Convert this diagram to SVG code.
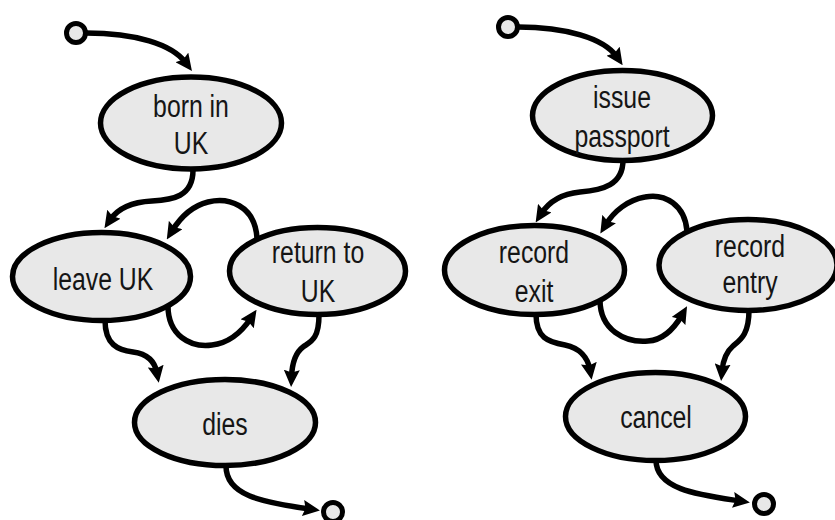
<svg xmlns="http://www.w3.org/2000/svg" width="835" height="520" viewBox="0 0 835 520">
<style>
.node ellipse{fill:#e8e8e8;stroke:#000;stroke-width:5.5}
.term{fill:#e8e8e8;stroke:#000;stroke-width:5}
.lbl{font-family:"Liberation Sans",Arial,sans-serif;font-size:31px;fill:#151515;text-anchor:middle}
#connectors path{fill:none;stroke:#000;stroke-width:5.5;marker-end:url(#arr)}
</style>
<defs>
<marker id="arr" markerUnits="userSpaceOnUse" viewBox="0 0 17 16" refX="7" refY="8" markerWidth="17" markerHeight="16" orient="auto">
<path d="M0,0 L17,8 L0,16 L2.5,8 Z" fill="#000"/>
</marker>
</defs>
<rect width="835" height="520" fill="#fff"/>
<g id="connectors">
<path d="M86,33 C135,33 172,44 186,63"/>
<path d="M193,170 C193,197 172,200 152,201 C132,202 118,208 110,220"/>
<path d="M257,238 C255,205 228,197 208,202 C192,206 180,218 172,231"/>
<path d="M168,306 C168,335 190,348 212,345 C230,343 243,330 251,318"/>
<path d="M105,320 C105,345 118,350 133,352 C148,354 155,362 157,373"/>
<path d="M319,315 C319,340 310,342 303,347 C295,353 292,365 291.5,377"/>
<path d="M226,466 C226,495 260,502 310,509"/>
<path d="M518,27 C565,27 604,38 617,57"/>
<path d="M623,160 C623,185 603,190 580,192 C560,194 548,203 541,214"/>
<path d="M687,231 C685,205 665,193 645,197 C628,200 614,211 605.5,225"/>
<path d="M600,300 C600,330 625,343 648,341 C664,340 675,327 682,315"/>
<path d="M536,314 C536,338 548,342 565,345 C580,348 588,358 590,370"/>
<path d="M749,310 C749,335 740,340 733,346 C726,352 723,360 722,371"/>
<path d="M656,460 C656,490 700,495 740,501"/>
</g>
<g id="start1"><circle class="term" cx="76" cy="33" r="9.5"/></g>
<g id="end1"><circle class="term" cx="333" cy="512" r="9.5"/></g>
<g id="start2"><circle class="term" cx="508" cy="27" r="9.5"/></g>
<g id="end2"><circle class="term" cx="764" cy="504" r="9.5"/></g>
<g id="born" class="node"><ellipse cx="191" cy="123" rx="90.5" ry="46"/>
<text class="lbl" transform="translate(191,117) scale(0.8,1)">born in</text>
<text class="lbl" transform="translate(191,154) scale(0.8,1)">UK</text></g>
<g id="leave" class="node"><ellipse cx="101.5" cy="276.5" rx="89" ry="44"/>
<text class="lbl" transform="translate(103,290) scale(0.8,1)">leave UK</text></g>
<g id="return" class="node"><ellipse cx="317.5" cy="271" rx="88" ry="43.5"/>
<text class="lbl" transform="translate(318,263) scale(0.8,1)">return to</text>
<text class="lbl" transform="translate(318,302) scale(0.8,1)">UK</text></g>
<g id="dies" class="node"><ellipse cx="225" cy="422.5" rx="90.5" ry="43"/>
<text class="lbl" transform="translate(225,435) scale(0.8,1)">dies</text></g>
<g id="issue" class="node"><ellipse cx="622.5" cy="115.5" rx="90" ry="45"/>
<text class="lbl" transform="translate(622,108) scale(0.8,1)">issue</text>
<text class="lbl" transform="translate(622,147) scale(0.8,1)">passport</text></g>
<g id="exit" class="node"><ellipse cx="534.5" cy="270" rx="90" ry="44.5"/>
<text class="lbl" transform="translate(534,263) scale(0.8,1)">record</text>
<text class="lbl" transform="translate(534,302) scale(0.8,1)">exit</text></g>
<g id="entry" class="node"><ellipse cx="748" cy="265" rx="89" ry="45.5"/>
<text class="lbl" transform="translate(750,257) scale(0.8,1)">record</text>
<text class="lbl" transform="translate(750,293) scale(0.8,1)">entry</text></g>
<g id="cancel" class="node"><ellipse cx="655.5" cy="416.5" rx="90" ry="44"/>
<text class="lbl" transform="translate(656,428) scale(0.8,1)">cancel</text></g>
</svg>
